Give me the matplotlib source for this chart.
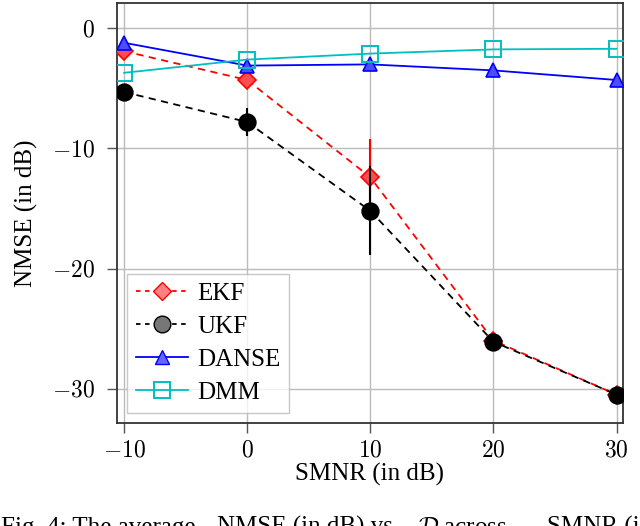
import matplotlib
matplotlib.use("Agg")
import matplotlib.pyplot as plt
from matplotlib.lines import Line2D
import numpy as np

smnr = [-10, 0, 10, 20, 30]
ekf = [-1.9, -4.3, -12.4, -26.0, -30.5]
ekf_err = [0.0, 0.0, 3.2, 0.0, 0.0]
ukf = [-5.3, -7.8, -15.2, -26.1, -30.5]
ukf_err = [0.0, 1.2, 3.7, 0.0, 0.0]
danse = [-1.2, -3.1, -3.0, -3.5, -4.3]
dmm = [-3.7, -2.6, -2.1, -1.75, -1.7]
xticks = [-10, 0, 10, 20, 30]
yticks = [0, -10, -20, -30]
labels = ["EKF", "UKF", "DANSE", "DMM"]

plt.rcParams['font.family'] = ['Liberation Serif', 'DejaVu Serif']
plt.rcParams['mathtext.fontset'] = 'cm'

fig = plt.figure(figsize=(6.4, 5.26), dpi=100)
ax = fig.add_axes([0.183, 0.195, 0.79, 0.799])

ax.errorbar(smnr, ekf, yerr=ekf_err, color='red', ls=(0, (4, 3)), lw=1.3,
            marker='D', ms=9, mfc=(1, 0.3, 0.3), mec='red', mew=1.2,
            elinewidth=1.5, capsize=0, zorder=3)
ax.errorbar(smnr, ukf, yerr=ukf_err, color='black', ls=(0, (4, 3)), lw=1.3,
            marker='o', ms=12, mfc='black', mec='black', mew=1.2,
            elinewidth=1.5, capsize=0, zorder=4)
ax.plot(smnr, danse, color='blue', lw=1.3, marker='^', ms=10,
        mfc=(0.3, 0.3, 1.0), mec='blue', mew=1.2, zorder=5)
ax.plot(smnr, dmm, color='#00bfbf', lw=1.3, marker='s', ms=12,
        mfc='none', mec='#00bfbf', mew=1.4, zorder=6)

ax.set_xlim(-10.57, 30.5)
ax.set_ylim(-32.9, 2.1)
ax.set_xticks(xticks)
ax.set_xticklabels([f"${v}$" for v in xticks])
ax.set_yticks(yticks)
ax.set_yticklabels([f"${v}$" for v in yticks])
ax.tick_params(direction='out', length=7, width=1, color='#555555',
               labelsize=17)
ax.tick_params(axis='y', pad=9)
ax.tick_params(axis='x', pad=5)
ax.grid(True, color='#bbbbbb', lw=1.0)
ax.set_axisbelow(True)
for s in ax.spines.values():
    s.set_color('#333333')
    s.set_linewidth(1.3)

ax.set_xlabel("SMNR (in dB)", fontsize=18, labelpad=1)
ax.set_ylabel("NMSE (in dB)", fontsize=18, labelpad=10)

handles = [
    Line2D([], [], color='red', ls=(0, (2.5, 2.5)), lw=1.3, marker='D', ms=9,
           mfc=(1, 0.5, 0.5), mec='red'),
    Line2D([], [], color='black', ls=(0, (2.5, 2.5)), lw=1.3, marker='o', ms=12,
           mfc='#777777', mec='black'),
    Line2D([], [], color='blue', lw=1.3, marker='^', ms=10,
           mfc=(0.4, 0.4, 1.0), mec='blue'),
    Line2D([], [], color='#00bfbf', lw=1.3, marker='s', ms=12,
           mfc='none', mec='#00bfbf', mew=1.4),
]
leg = ax.legend(handles, labels, loc='lower left', bbox_to_anchor=(0.02, 0.025),
                fontsize=18, frameon=True, fancybox=False, handlelength=2.1,
                handletextpad=0.35, labelspacing=0.42, borderpad=0.35,
                borderaxespad=0.0)
leg.get_frame().set_edgecolor('#bbbbbb')
leg.get_frame().set_linewidth(1.0)

# caption, clipped at the bottom edge as in the reference
cy = 1 - 534 / 526
fig.text(1 / 640, cy, "Fig. 4: The average", fontsize=18, va='baseline', ha='left')
fig.text(217 / 640, cy, "NMSE (in dB) vs.", fontsize=18, va='baseline', ha='left')
fig.text(418 / 640, cy, "$\\mathcal{D}$ across", fontsize=18, va='baseline', ha='left')
fig.text(547 / 640, cy, "SMNR (in dB)", fontsize=18, va='baseline', ha='left')

fig.savefig("out.png", dpi=100)
